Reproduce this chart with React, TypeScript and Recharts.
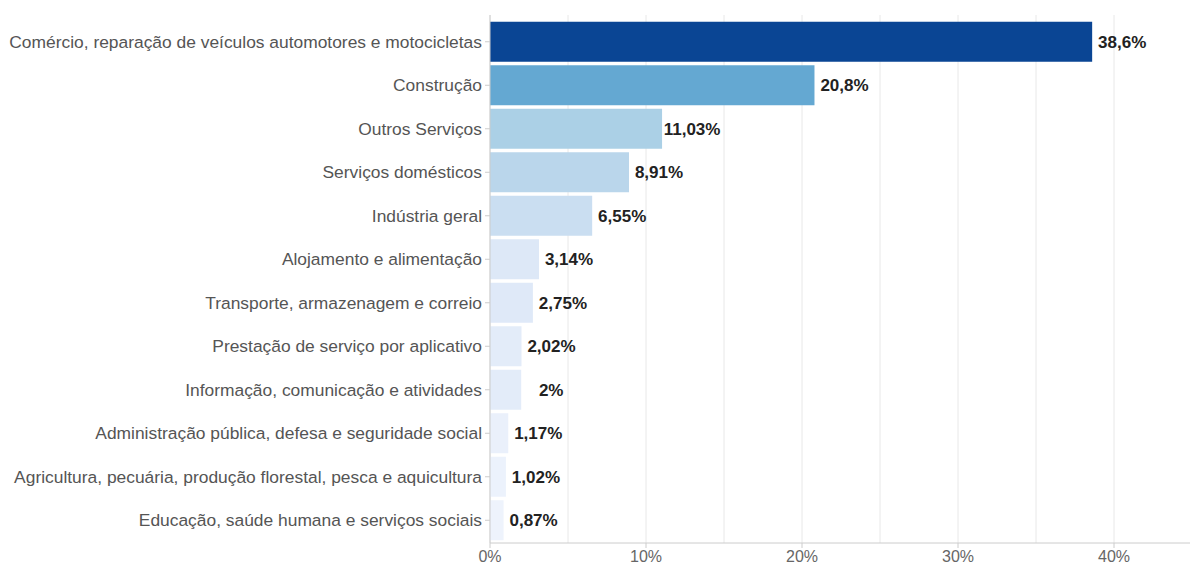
import React from "react";
import {
  BarChart,
  Bar,
  XAxis,
  YAxis,
  CartesianGrid,
  Cell,
  LabelList,
} from "recharts";

const categories = [
  "Comércio, reparação de veículos automotores e motocicletas",
  "Construção",
  "Outros Serviços",
  "Serviços domésticos",
  "Indústria geral",
  "Alojamento e alimentação",
  "Transporte, armazenagem e correio",
  "Prestação de serviço por aplicativo",
  "Informação, comunicação e atividades",
  "Administração pública, defesa e seguridade social",
  "Agricultura, pecuária, produção florestal, pesca e aquicultura",
  "Educação, saúde humana e serviços sociais",
];

const values = [38.6, 20.8, 11.03, 8.91, 6.55, 3.14, 2.75, 2.02, 2, 1.17, 1.02, 0.87];

const barColors = [
  "#0a4594",
  "#64a8d2",
  "#abd0e6",
  "#bad6eb",
  "#cadef1",
  "#dde8f7",
  "#dfe9f8",
  "#e3ecf9",
  "#e3ecf9",
  "#eaf0fb",
  "#ecf2fc",
  "#eef3fc",
];

const xTicks = [0, 5, 10, 15, 20, 25, 30, 35, 40];

const data = categories.map((name, i) => ({ name, value: values[i] }));

const FONT = "'Liberation Sans', Arial, Helvetica, sans-serif";

const fmt = (v: number) => String(v).replace(".", ",") + "%";

const XTick = (props: any) => {
  const { x, y, payload } = props;
  const v = payload.value;
  if (v % 10 !== 0) return null;
  return (
    <g>
      <line x1={x} x2={x} y1={y - 8} y2={y - 3} stroke="#ccc" />
      <text
        x={x}
        y={y + 11}
        textAnchor="middle"
        fill="#666"
        fontSize={16}
        fontFamily={FONT}
      >
        {v}%
      </text>
    </g>
  );
};

const ValueLabel = (props: any) => {
  const { x, y, width, height, value } = props;
  return (
    <text
      x={x + width + 30}
      y={y + height / 2}
      dy="0.35em"
      textAnchor="middle"
      fill="#222"
      fontSize={17}
      fontWeight="bold"
      fontFamily={FONT}
    >
      {fmt(value)}
    </text>
  );
};

export default function App() {
  return (
    <div style={{ position: "absolute", left: 0, top: 0, width: 1190, height: 568, overflow: "hidden", background: "#fff" }}>
      <BarChart
        width={1192}
        height={568}
        data={data}
        layout="vertical"
        margin={{ top: 15, right: 0, bottom: 0, left: 0 }}
        barCategoryGap="4%"
      >
        <CartesianGrid horizontal={false} stroke="#e8e8e8" />
        <XAxis
          type="number"
          domain={[0, 45]}
          ticks={xTicks}
          interval={0}
          tickLine={false}
          axisLine={{ stroke: "#ccc" }}
          tick={<XTick />}
          height={25}
        />
        <XAxis
          xAxisId="top"
          type="number"
          orientation="top"
          domain={[0, 45]}
          tick={false}
          tickLine={false}
          axisLine={{ stroke: "#ddd" }}
          height={0}
        />
        <YAxis
          type="category"
          dataKey="name"
          width={490}
          interval={0}
          tickSize={5}
          tickMargin={3}
          padding={{ top: 5, bottom: 1 }}
          tickLine={{ stroke: "#ccc" }}
          axisLine={{ stroke: "#ccc" }}
          tick={{ fill: "#555", fontSize: 17.4, fontFamily: FONT }}
        />
        <Bar dataKey="value" isAnimationActive={false}>
          {data.map((d, i) => (
            <Cell key={d.name} fill={barColors[i]} />
          ))}
          <LabelList dataKey="value" content={<ValueLabel />} />
        </Bar>
      </BarChart>
    </div>
  );
}
